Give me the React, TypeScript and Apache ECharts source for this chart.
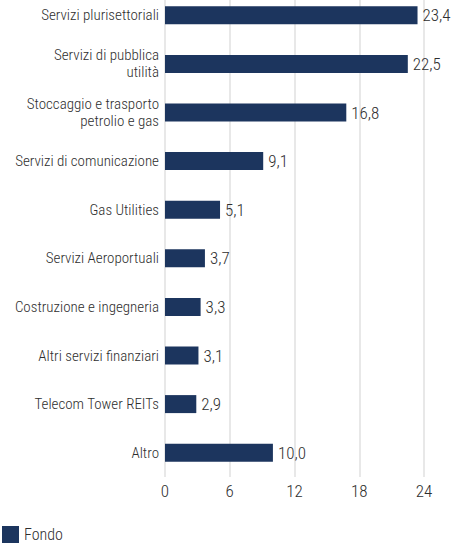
import React, { useEffect, useRef } from "react";
import * as echarts from "echarts";

const categories = [
  "Servizi plurisettoriali",
  "Servizi di pubblica\nutilità",
  "Stoccaggio e trasporto\npetrolio e gas",
  "Servizi di comunicazione",
  "Gas Utilities",
  "Servizi Aeroportuali",
  "Costruzione e ingegneria",
  "Altri servizi finanziari",
  "Telecom Tower REITs",
  "Altro",
];
const values = [23.4, 22.5, 16.8, 9.1, 5.1, 3.7, 3.3, 3.1, 2.9, 10.0];
const seriesName = "Fondo";

const FONT = "'Roboto Condensed', 'Liberation Sans Narrow', sans-serif";
const TXT = "#2e2e2e";

export default function App() {
  const ref = useRef<HTMLDivElement>(null);
  useEffect(() => {
    if (!ref.current) return;
    const chart = echarts.init(ref.current, undefined, { renderer: "svg" });
    chart.setOption({
      animation: false,
      textStyle: { fontFamily: FONT, fontWeight: 300 },
      grid: {
        left: 165,
        right: 27,
        top: -9,
        bottom: 71,
        containLabel: false,
        outerBoundsMode: "none",
      },
      legend: {
        data: [seriesName],
        left: 2,
        top: 526,
        padding: 0,
        itemWidth: 17,
        itemHeight: 17,
        itemGap: 8,
        icon: "rect",
        textStyle: { fontFamily: FONT, fontWeight: 300, fontSize: 16, lineHeight: 17, color: TXT },
      },
      xAxis: {
        type: "value",
        min: 0,
        max: 24,
        interval: 6,
        axisLine: { show: false },
        axisTick: { show: false },
        splitLine: { show: true, lineStyle: { color: "#e8e8e8", width: 2 } },
        axisLabel: { fontFamily: FONT, fontWeight: 300, fontSize: 17, color: TXT, margin: 5 },
      },
      yAxis: {
        type: "category",
        data: categories,
        inverse: true,
        axisLine: { show: false },
        axisTick: { show: false },
        axisLabel: {
          fontFamily: FONT,
          fontWeight: 300,
          fontSize: 15,
          color: TXT,
          margin: 6,
          lineHeight: 17,
          align: "right",
        },
      },
      series: [
        {
          name: seriesName,
          type: "bar",
          data: values,
          barWidth: 18,
          itemStyle: { color: "#1c355e" },
          label: {
            show: true,
            position: "right",
            distance: 5,
            fontFamily: FONT,
            fontWeight: 300,
            fontSize: 17,
            color: TXT,
            formatter: (p: any) => Number(p.value).toFixed(1).replace(".", ","),
          },
        },
      ],
    });
    return () => chart.dispose();
  }, []);
  return <div ref={ref} style={{ width: 451, height: 548, position: "absolute", left: 0, top: 0 }} />;
}
